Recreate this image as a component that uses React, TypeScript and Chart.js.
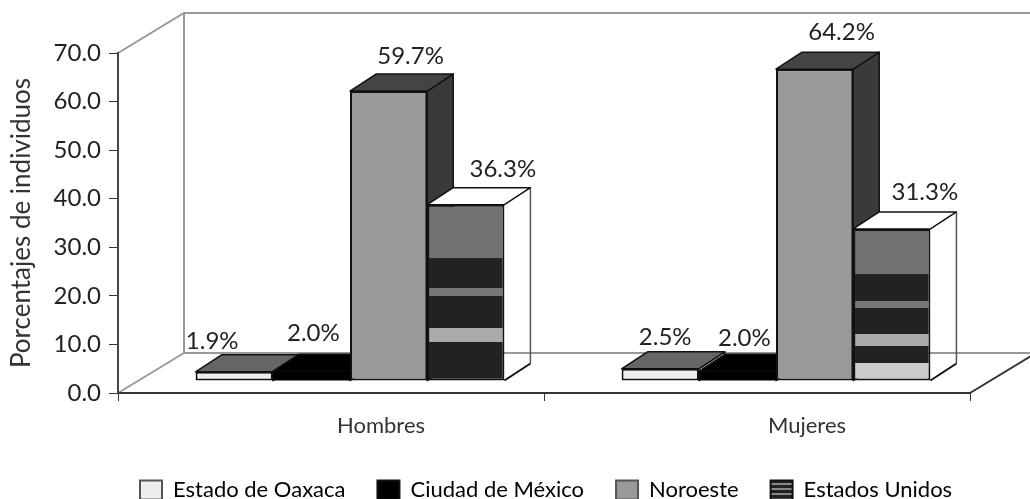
import React, { useEffect, useRef } from "react";
import { Chart, registerables } from "chart.js";

Chart.register(...registerables);

const categories = ["Hombres", "Mujeres"];
const seriesNames = ["Estado de Oaxaca", "Ciudad de México", "Noroeste", "Estados Unidos"];
const estadoOaxaca = [1.9, 2.5];
const ciudadMexico = [2.0, 2.0];
const noroeste = [59.7, 64.2];
const estadosUnidos = [36.3, 31.3];

// Stripes of the "Estados Unidos" bar, in value units, bottom to top
const stripeEdgesHombres = [0, 8.1, 11, 17.4, 19.2, 25.4, 36.3];
const stripeEdgesMujeres = [0, 3.7, 7.2, 9.7, 15.1, 16.5, 22.1, 31.3];
const stripeColorsHombres = ["#222", "#aaa", "#222", "#777", "#222", "#727272"];
const stripeColorsMujeres = ["#ccc", "#222", "#aaa", "#222", "#777", "#222", "#727272"];

const FONT = "Lato";
const fronts = ["#eeeeee", "#000000", "#999999", "#222222"];
const borderWidths = [2, 0, 2, 2];
const tops = ["#666666", "#000000", "#444444", "#ffffff"];
const sides = ["#ffffff", "#000000", "#3a3a3a", null];

const DEPTH = { x: 66, y: -40 };
const BAR_SHIFT = { x: 19, y: -12 };
const BAR_DEPTH = { x: 26, y: -17 };
const labelOffsets = [
  [[-22, -31], [5, -32]],
  [[2, -38], [7, -33]],
  [[22, -35], [27, -37]],
  [[37, -35], [33, -37]],
];

function stripes(ctx: CanvasRenderingContext2D, yScale: any, edges: number[], colors: string[]) {
  const top = edges[edges.length - 1];
  const y0 = yScale.getPixelForValue(0);
  const y1 = yScale.getPixelForValue(top);
  const g = ctx.createLinearGradient(0, y0, 0, y1);
  colors.forEach((c, i) => {
    g.addColorStop(edges[i] / top, c);
    g.addColorStop(edges[i + 1] / top, c);
  });
  return g;
}

function legendStripePattern(ctx: CanvasRenderingContext2D) {
  const c = document.createElement("canvas");
  c.width = 2;
  c.height = 5;
  const p = c.getContext("2d")!;
  p.fillStyle = "#222";
  p.fillRect(0, 0, 2, 5);
  p.fillStyle = "#888";
  p.fillRect(0, 3, 2, 2);
  return ctx.createPattern(c, "repeat");
}

const scenePlugin = {
  id: "scene3d",
  afterLayout(chart: any) {
    const lg = chart.legend;
    lg.left += 108;
    lg.right += 108;
    lg.top += 9;
    lg.bottom += 9;
  },
  beforeDraw(chart: any) {
    const { ctx } = chart;
    const x = chart.scales.x;
    const y = chart.scales.y;
    const l = x.left, r = x.right, b = y.bottom, t = y.top;
    ctx.save();
    ctx.strokeStyle = "#999";
    ctx.lineWidth = 2;
    ctx.beginPath();
    ctx.moveTo(l, t);
    ctx.lineTo(l + DEPTH.x, t + DEPTH.y);
    ctx.lineTo(r + DEPTH.x, t + DEPTH.y);
    ctx.moveTo(l + DEPTH.x, t + DEPTH.y);
    ctx.lineTo(l + DEPTH.x, b + DEPTH.y);
    ctx.lineTo(r + DEPTH.x, b + DEPTH.y);
    ctx.moveTo(l, b);
    ctx.lineTo(l + DEPTH.x, b + DEPTH.y);
    ctx.stroke();
    ctx.strokeStyle = "#333";
    ctx.beginPath();
    ctx.moveTo(r, b);
    ctx.lineTo(r + DEPTH.x, b + DEPTH.y);
    ctx.stroke();
    ctx.restore();
  },
  beforeDatasetsDraw(chart: any) {
    const { ctx } = chart;
    ctx.save();
    ctx.translate(BAR_SHIFT.x, BAR_SHIFT.y);
    const dx = BAR_DEPTH.x, dy = BAR_DEPTH.y;
    categories.forEach((_, c) => {
      chart.data.datasets.forEach((_d: any, i: number) => {
        const el = chart.getDatasetMeta(i).data[c];
        const x0 = el.x - el.width / 2, x1 = el.x + el.width / 2, top = el.y, base = el.base;
        ctx.lineJoin = "round";
        // side
        ctx.beginPath();
        ctx.moveTo(x1, top);
        ctx.lineTo(x1 + dx, top + dy);
        ctx.lineTo(x1 + dx, base + dy);
        ctx.lineTo(x1, base);
        ctx.closePath();
        if (sides[i]) {
          ctx.fillStyle = sides[i];
          ctx.fill();
          ctx.strokeStyle = "#111";
          ctx.lineWidth = 1.5;
          ctx.stroke();
        } else {
          ctx.strokeStyle = "#555";
          ctx.lineWidth = 1.5;
          ctx.beginPath();
          ctx.moveTo(x1 + dx, top + dy);
          ctx.lineTo(x1 + dx, base + dy);
          ctx.stroke();
          ctx.strokeStyle = "#111";
          ctx.lineWidth = 2;
          ctx.beginPath();
          ctx.moveTo(x1 + dx, base + dy);
          ctx.lineTo(x1, base);
          ctx.stroke();
        }
        // top
        ctx.beginPath();
        ctx.moveTo(x0, top);
        ctx.lineTo(x0 + dx, top + dy);
        ctx.lineTo(x1 + dx, top + dy);
        ctx.lineTo(x1, top);
        ctx.closePath();
        ctx.fillStyle = tops[i];
        ctx.fill();
        ctx.strokeStyle = "#111";
        ctx.lineWidth = 1.5;
        ctx.stroke();
      });
    });
  },
  afterDatasetsDraw(chart: any) {
    const { ctx } = chart;
    ctx.restore();
    ctx.save();
    ctx.font = `24px ${FONT}`;
    ctx.fillStyle = "#222";
    ctx.textAlign = "center";
    ctx.textBaseline = "middle";
    chart.data.datasets.forEach((ds: any, i: number) => {
      chart.getDatasetMeta(i).data.forEach((el: any, c: number) => {
        const [ox, oy] = labelOffsets[i][c];
        ctx.fillText(
          ds.data[c].toFixed(1) + "%",
          el.x + BAR_SHIFT.x + ox,
          el.y + BAR_SHIFT.y + oy
        );
      });
    });
    ctx.restore();
  },
};

export default function App() {
  const ref = useRef<HTMLCanvasElement>(null);
  useEffect(() => {
    const chart = new Chart(ref.current!, {
      type: "bar",
      plugins: [scenePlugin],
      data: {
        labels: categories,
        datasets: [estadoOaxaca, ciudadMexico, noroeste, estadosUnidos].map((data, i) => ({
          label: seriesNames[i],
          data,
          clip: false,
          borderColor: "#111111",
          borderWidth: borderWidths[i],
          borderSkipped: false,
          backgroundColor:
            i === 3
              ? (c: any) =>
                  c.dataIndex === 1
                    ? stripes(c.chart.ctx, c.chart.scales.y, stripeEdgesMujeres, stripeColorsMujeres)
                    : stripes(c.chart.ctx, c.chart.scales.y, stripeEdgesHombres, stripeColorsHombres)
              : fronts[i],
        })),
      } as any,
      options: {
        animation: false,
        responsive: false,
        devicePixelRatio: 1,
        layout: { padding: { top: 53, right: 60, left: 0, bottom: -3 } },
        datasets: { bar: { categoryPercentage: 0.725, barPercentage: 1 } },
        plugins: {
          tooltip: { enabled: false },
          title: { display: false },
          legend: {
            position: "bottom",
            align: "start",
            labels: {
              boxWidth: 22,
              boxHeight: 19,
              padding: 32,
              color: "#222",
              font: { family: FONT, size: 22 },
              generateLabels: (chart: any) =>
                seriesNames.map((text, i) => ({
                  text,
                  datasetIndex: i,
                  fillStyle: i === 3 ? legendStripePattern(chart.ctx) : fronts[i],
                  strokeStyle: i === 0 || i === 2 ? "#555" : "#111",
                  lineWidth: 2,
                  hidden: false,
                })),
            },
          },
        },
        scales: {
          x: {
            afterFit: (s: any) => { s.height = 45; },
            grid: { display: true, drawOnChartArea: false, drawTicks: true, tickLength: 8, color: "#333" },
            border: { display: true, color: "#333", width: 2 },
            ticks: { labelOffset: 50, padding: 12, color: "#333", font: { family: FONT, size: 22 } },
          },
          y: {
            min: 0,
            max: 70,
            afterFit: (s: any) => { s.width = 118; },
            grid: { display: true, drawOnChartArea: false, drawTicks: true, tickLength: 9, color: "#333" },
            border: { display: true, color: "#444", width: 2 },
            ticks: {
              stepSize: 10,
              padding: 8,
              color: "#222",
              font: { family: FONT, size: 24 },
              callback: (v: any) => Number(v).toFixed(1),
            },
            title: {
              display: true,
              text: "Porcentajes de individuos",
              color: "#333",
              font: { family: FONT, size: 26 },
              padding: { top: 6, bottom: 0 },
            },
          },
        },
      },
    } as any);
    return () => chart.destroy();
  }, []);
  return (
    <div style={{ position: "fixed", left: 0, top: 0, width: 1030, height: 499, background: "#fff" }}>
      <canvas ref={ref} width={1030} height={499} style={{ display: "block" }} />
    </div>
  );
}
